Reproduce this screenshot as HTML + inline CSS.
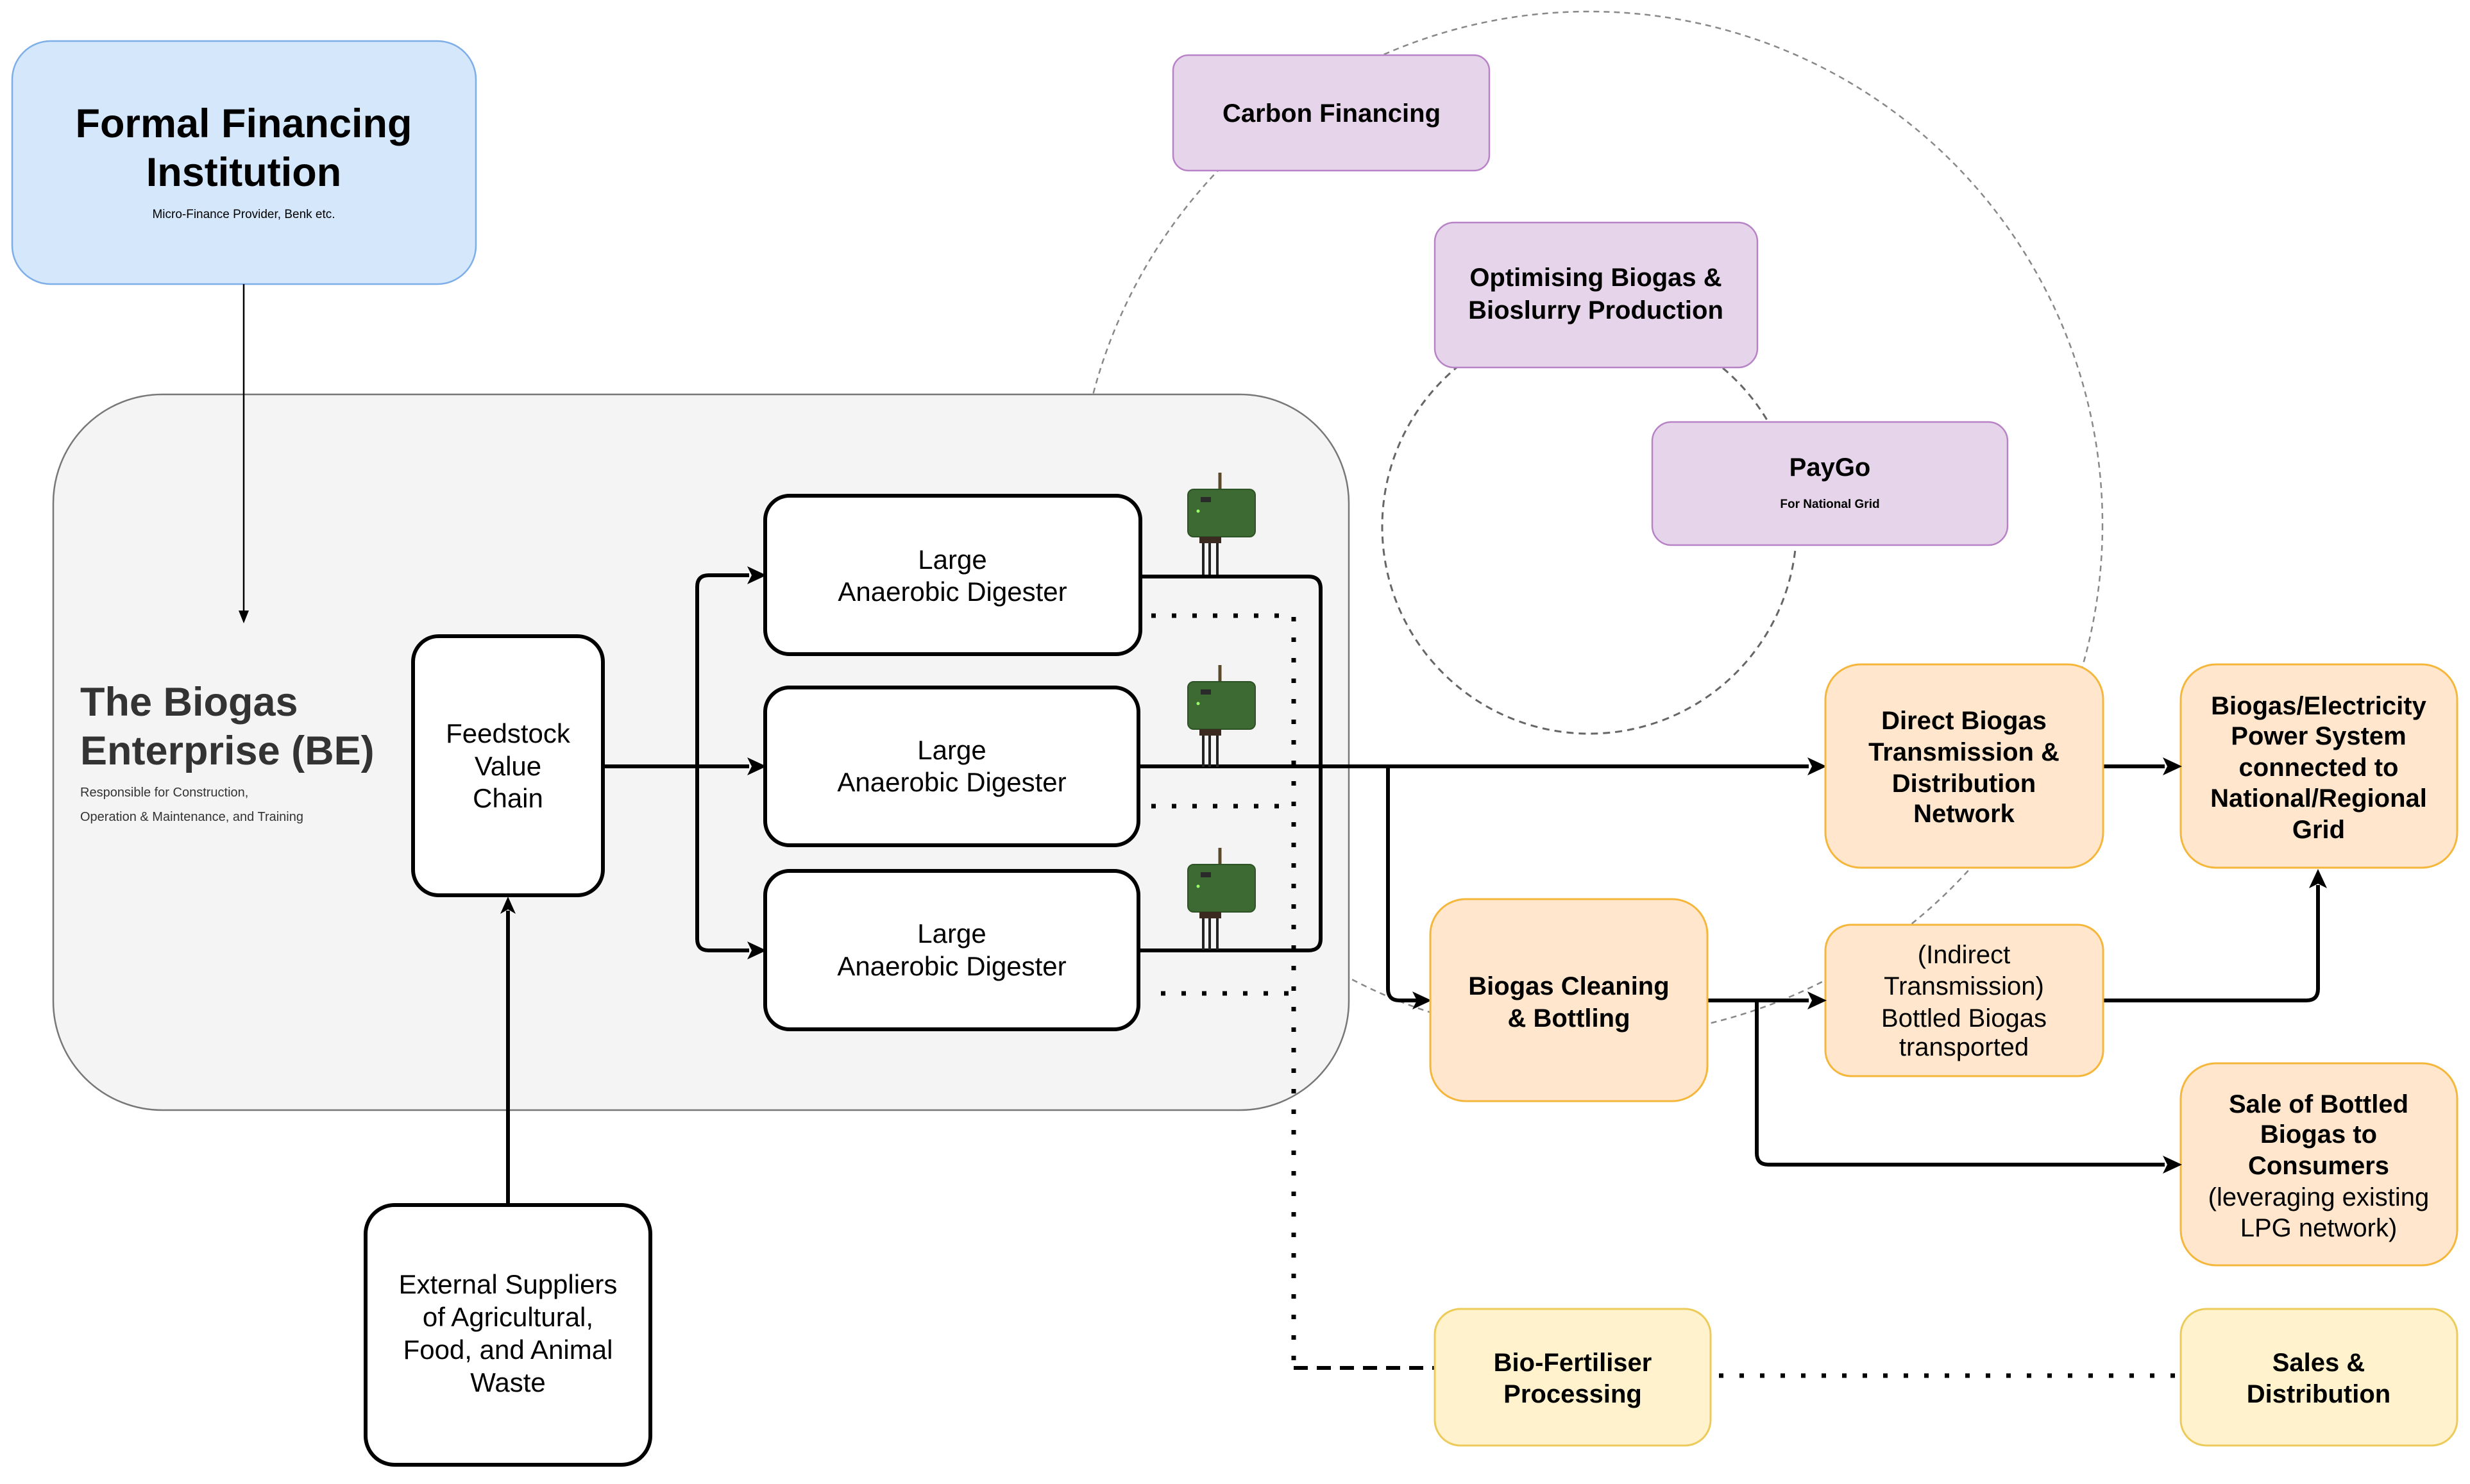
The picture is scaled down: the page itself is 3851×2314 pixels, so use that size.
<!DOCTYPE html>
<html><head><meta charset="utf-8"><style>
html,body{margin:0;padding:0;background:#fff;}
svg{display:block;}
text{font-family:"Liberation Sans",Arial,sans-serif;}
</style></head><body>
<svg width="3851" height="2314" viewBox="0 0 3851 2314" xmlns="http://www.w3.org/2000/svg">
<defs>
<g id="sensor">
<line x1="0" y1="-26" x2="0" y2="0" stroke="#5a4a2a" stroke-width="5"/>
<rect x="-50" y="0" width="105" height="74" rx="9" fill="#3d6a32" stroke="#2d5225" stroke-width="2"/>
<rect x="-30" y="12" width="16" height="8" fill="#2a2a2a"/>
<circle cx="-34" cy="34" r="2.5" fill="#9f6"/>
<line x1="-26" y1="74" x2="-26" y2="133" stroke="#222" stroke-width="4"/>
<line x1="-16" y1="74" x2="-16" y2="133" stroke="#222" stroke-width="4"/>
<line x1="-4" y1="74" x2="-4" y2="133" stroke="#222" stroke-width="4"/>
<rect x="-32" y="74" width="34" height="10" fill="#3a2a20"/>
</g>
</defs>

<circle cx="2478" cy="818" r="800" fill="none" stroke="#888" stroke-width="2.5" stroke-dasharray="9 7"/>
<circle cx="2478" cy="821" r="323" fill="none" stroke="#666" stroke-width="3" stroke-dasharray="11 8"/>

<rect x="83" y="615" width="2020" height="1116" rx="170" fill="#f4f4f4" stroke="#777" stroke-width="2.5"/>

<rect x="19" y="64" width="723" height="379" rx="60" fill="#d4e7fb" stroke="#7eaee8" stroke-width="2.5"/>
<text x="380" y="214" font-size="63" font-weight="bold" text-anchor="middle" fill="#000">Formal Financing</text>
<text x="380" y="290" font-size="63" font-weight="bold" text-anchor="middle" fill="#000">Institution</text>
<text x="380" y="340" font-size="19" text-anchor="middle" fill="#000">Micro-Finance Provider, Benk etc.</text>
<line x1="380" y1="443" x2="380" y2="962" stroke="#000" stroke-width="2.5"/>
<path d="M372,952 L380,972 L388,952 Z" fill="#000"/>

<text x="125" y="1116" font-size="63" font-weight="bold" fill="#333">The Biogas</text>
<text x="125" y="1192" font-size="63" font-weight="bold" fill="#333">Enterprise (BE)</text>
<text x="125" y="1242" font-size="20" fill="#333">Responsible for Construction,</text>
<text x="125" y="1280" font-size="20" fill="#333">Operation &amp; Maintenance, and Training</text>

<rect x="644" y="992" width="296" height="404" rx="40" fill="#fff" stroke="#000" stroke-width="6"/>
<text x="792" y="1158" font-size="42" text-anchor="middle">Feedstock</text>
<text x="792" y="1209" font-size="42" text-anchor="middle">Value</text>
<text x="792" y="1259" font-size="42" text-anchor="middle">Chain</text>

<rect x="570" y="1879" width="444" height="405" rx="45" fill="#fff" stroke="#000" stroke-width="6"/>
<text x="792" y="2017" font-size="42" text-anchor="middle">External Suppliers</text>
<text x="792" y="2068" font-size="42" text-anchor="middle">of Agricultural,</text>
<text x="792" y="2119" font-size="42" text-anchor="middle">Food, and Animal</text>
<text x="792" y="2170" font-size="42" text-anchor="middle">Waste</text>
<line x1="792" y1="1879" x2="792" y2="1420" stroke="#000" stroke-width="6"/>
<path d="M780,1425 L792,1398 L804,1425 L792,1418 Z" fill="#000"/>

<g stroke="#000" stroke-width="6" fill="none">
<path d="M940,1195 L1168,1195"/>
<path d="M1168,897 L1105,897 Q1087,897 1087,915 L1087,1464 Q1087,1482 1105,1482 L1168,1482"/>
</g>
<path d="M1165,883 L1195,897 L1165,911 L1172,897 Z" fill="#000"/>
<path d="M1165,1181 L1195,1195 L1165,1209 L1172,1195 Z" fill="#000"/>
<path d="M1165,1468 L1195,1482 L1165,1496 L1172,1482 Z" fill="#000"/>

<g stroke="#000" stroke-width="6" fill="none">
<path d="M1778,899 L2040,899 Q2059,899 2059,918 L2059,1464 Q2059,1482 2040,1482 L1775,1482"/>
<path d="M1775,1195 L2820,1195"/>
<path d="M2164,1195 L2164,1542 Q2164,1560 2182,1560 L2210,1560"/>
</g>
<path d="M2818,1181 L2848,1195 L2818,1209 L2825,1195 Z" fill="#000"/>
<path d="M2202,1546 L2232,1560 L2202,1574 L2209,1560 Z" fill="#000"/>

<g stroke="#000" stroke-width="7" fill="none" stroke-dasharray="7 25">
<path d="M1795,960 L2017,960 L2017,2133"/>
<path d="M1795,1257 L2017,1257"/>
<path d="M1810,1549 L2017,1549"/>
<path d="M2680,2145 L3400,2145"/>
</g>
<path d="M2017,2133 L2237,2133" stroke="#000" stroke-width="6" fill="none" stroke-dasharray="22 14"/>

<g fill="#fff" stroke="#000" stroke-width="6">
<rect x="1193" y="773" width="585" height="247" rx="38"/>
<rect x="1193" y="1072" width="582" height="246" rx="38"/>
<rect x="1193" y="1358" width="582" height="247" rx="38"/>
</g>
<g font-size="42" text-anchor="middle">
<text x="1485" y="887">Large</text><text x="1485" y="937">Anaerobic Digester</text>
<text x="1484" y="1184">Large</text><text x="1484" y="1234">Anaerobic Digester</text>
<text x="1484" y="1470">Large</text><text x="1484" y="1521">Anaerobic Digester</text>
</g>

<use href="#sensor" x="1902" y="763"/>
<use href="#sensor" x="1902" y="1063"/>
<use href="#sensor" x="1902" y="1348"/>

<g fill="#e6d5ea" stroke="#b883c6" stroke-width="2.5">
<rect x="1829" y="86" width="493" height="180" rx="24"/>
<rect x="2237" y="347" width="503" height="226" rx="30"/>
<rect x="2576" y="658" width="554" height="192" rx="30"/>
</g>
<g font-weight="bold" text-anchor="middle" fill="#000">
<text x="2076" y="190" font-size="40">Carbon Financing</text>
<text x="2488" y="446" font-size="40">Optimising Biogas &amp;</text>
<text x="2488" y="497" font-size="40">Bioslurry Production</text>
<text x="2853" y="742" font-size="40">PayGo</text>
<text x="2853" y="792" font-size="19">For National Grid</text>
</g>

<g stroke="#000" stroke-width="6" fill="none">
<path d="M3279,1195 L3375,1195"/>
<path d="M2662,1560 L2820,1560"/>
<path d="M2739,1560 L2739,1798 Q2739,1816 2757,1816 L3375,1816"/>
<path d="M3279,1560 L3596,1560 Q3614,1560 3614,1542 L3614,1380"/>
</g>

<g fill="#ffe6cc" stroke="#f5b73b" stroke-width="3">
<rect x="2846" y="1036" width="433" height="317" rx="55"/>
<rect x="3400" y="1036" width="431" height="317" rx="55"/>
<rect x="2230" y="1402" width="432" height="315" rx="55"/>
<rect x="2846" y="1442" width="433" height="236" rx="40"/>
<rect x="3400" y="1658" width="431" height="315" rx="55"/>
</g>
<g fill="#fff2cc" stroke="#eccb5a" stroke-width="3">
<rect x="2237" y="2041" width="430" height="213" rx="40"/>
<rect x="3400" y="2041" width="431" height="213" rx="40"/>
</g>
<g font-size="40" text-anchor="middle" fill="#000">
<g font-weight="bold">
<text x="3062" y="1137">Direct Biogas</text>
<text x="3062" y="1186">Transmission &amp;</text>
<text x="3062" y="1235">Distribution</text>
<text x="3062" y="1282">Network</text>
<text x="3615" y="1114">Biogas/Electricity</text>
<text x="3615" y="1161">Power System</text>
<text x="3615" y="1210">connected to</text>
<text x="3615" y="1258">National/Regional</text>
<text x="3615" y="1307">Grid</text>
<text x="2446" y="1551">Biogas Cleaning</text>
<text x="2446" y="1601">&amp; Bottling</text>
<text x="3615" y="1735">Sale of Bottled</text>
<text x="3615" y="1782">Biogas to</text>
<text x="3615" y="1831">Consumers</text>
<text x="2452" y="2138">Bio-Fertiliser</text>
<text x="2452" y="2187">Processing</text>
<text x="3615" y="2138">Sales &amp;</text>
<text x="3615" y="2187">Distribution</text>
</g>
<text x="3062" y="1502">(Indirect</text>
<text x="3062" y="1551">Transmission)</text>
<text x="3062" y="1601">Bottled Biogas</text>
<text x="3062" y="1646">transported</text>
<text x="3615" y="1880">(leveraging existing</text>
<text x="3615" y="1928">LPG network)</text>
</g>

<path d="M3372,1181 L3402,1195 L3372,1209 L3379,1195 Z" fill="#000"/>
<path d="M2818,1546 L2848,1560 L2818,1574 L2825,1560 Z" fill="#000"/>
<path d="M3372,1802 L3402,1816 L3372,1830 L3379,1816 Z" fill="#000"/>
<path d="M3600,1385 L3614,1355 L3628,1385 L3614,1378 Z" fill="#000"/>
</svg>
</body></html>
